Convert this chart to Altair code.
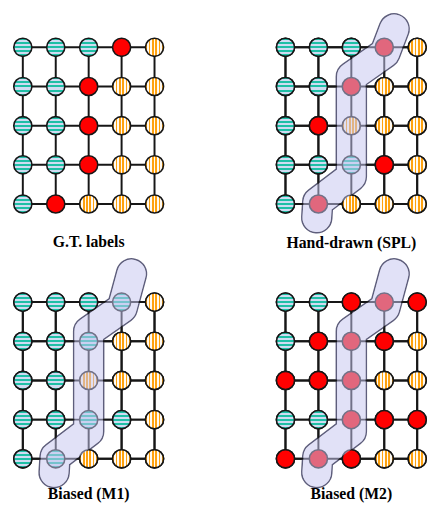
import altair as alt
import pandas as pd

# ---- data ----
panels = ["G.T. labels", "Hand-drawn (SPL)", "Biased (M1)", "Biased (M2)"]
# T = teal (class A), O = orange (class B), R = red (boundary / selected)
grid_gt = ["TTTRO", "TTROO", "TTROO", "TTROO", "TROOO"]
grid_spl = ["TTTRO", "TTROO", "TROOO", "TTTRO", "TROOO"]
grid_m1 = ["TTTTO", "TTTOO", "TTOOO", "TTTTO", "TTOOO"]
grid_m2 = ["TTRRR", "TRRRO", "RRROO", "TTRRR", "RRROO"]
grids = [grid_gt, grid_spl, grid_m1, grid_m2]
has_blob = [False, True, True, True]
blob_cells = [(0, 3), (1, 2), (2, 2), (3, 2), (4, 1)]
# blob centre line (grid units: col, row)
blob_col = [3.3, 3.02, 2.0, 2.0, 0.98, 0.95]
blob_row_mid = [0.15, 0.75, 3.3, 3.95, 4.35]
blob_top_row = [None, -0.47, -0.72, -0.72]

TEAL, TEAL_LIGHT = "#1fbfa6", "#cfdcf2"
ORANGE, ORANGE_LIGHT = "#ffa20f", "#fffaf2"
RED = "#ff0000"
LINE = "#161616"


def stripes(c1, c2, n, vertical_stripes):
    stops = []
    for i in range(n):
        col = c1 if i % 2 == 0 else c2
        stops.append(alt.GradientStop(offset=i / n, color=col))
        stops.append(alt.GradientStop(offset=(i + 1) / n, color=col))
    if vertical_stripes:
        return alt.Gradient(gradient="linear", stops=stops, x1=0, y1=0, x2=1, y2=0)
    return alt.Gradient(gradient="linear", stops=stops, x1=0, y1=0, x2=0, y2=1)


fills = {
    "T": stripes(TEAL, TEAL_LIGHT, 9, False),
    "O": stripes(ORANGE, ORANGE_LIGHT, 11, True),
    "R": RED,
}

W, H = 164, 224
xs = alt.Scale(domain=[-0.45, 4.45], nice=False, zero=False)
ys = alt.Scale(domain=[-0.9, 4.725], reverse=True, nice=False, zero=False)
TITLE_OFFSET = [2, 2, -2, -2]


def panel(idx):
    grid = grids[idx]
    blob = has_blob[idx]
    cells = pd.DataFrame(
        [
            {"row": r, "col": c, "kind": grid[r][c],
             "inblob": bool(blob and (r, c) in blob_cells)}
            for r in range(len(grid)) for c in range(len(grid[r]))
        ]
    )
    n = len(grid)
    hl = pd.DataFrame({"row": list(range(n)), "c0": 0, "c1": n - 1})
    vl = pd.DataFrame({"col": list(range(n)), "r0": 0, "r1": n - 1})

    X = alt.X("col:Q", scale=xs, axis=None)
    Y = alt.Y("row:Q", scale=ys, axis=None)

    hrules = alt.Chart(hl).mark_rule(color=LINE, strokeWidth=2).encode(
        x=alt.X("c0:Q", scale=xs, axis=None), x2="c1:Q", y=Y)
    vrules = alt.Chart(vl).mark_rule(color=LINE, strokeWidth=2).encode(
        x=X, y=alt.Y("r0:Q", scale=ys, axis=None), y2="r1:Q")

    def circles():
        layers = []
        for k in ["T", "O", "R"]:
            d = cells[cells.kind == k]
            if len(d) == 0:
                continue
            layers.append(
                alt.Chart(d).mark_point(shape="circle", filled=True, fill=fills[k],
                                        stroke=LINE, strokeWidth=1.6, size=340,
                                        opacity=1).encode(x=X, y=Y)
            )
        return layers

    layers = [hrules, vrules] + circles()

    if blob:
        bdf = pd.DataFrame({
            "col": blob_col,
            "row": [blob_top_row[idx]] + blob_row_mid,
            "i": list(range(len(blob_col))),
        })
        base = alt.Chart(bdf).encode(x=X, y=Y, order="i:Q")
        outline = base.mark_line(color="#5e5e7c", strokeWidth=32, strokeCap="round",
                                 strokeJoin="round", interpolate="linear")
        white = base.mark_line(color="white", strokeWidth=29, strokeCap="round",
                               strokeJoin="round", interpolate="linear")
        lav = base.mark_line(color="#c5c5f0", strokeWidth=29, strokeCap="round",
                             strokeJoin="round", interpolate="linear", opacity=0.52)
        layers += [outline, white, hrules, vrules] + circles() + [lav]

    return alt.layer(*layers).properties(
        width=W, height=H,
        title=alt.TitleParams(text=panels[idx], orient="bottom", font="Liberation Serif",
                              fontSize=16, fontWeight="bold", color="black",
                              offset=TITLE_OFFSET[idx], anchor="middle"),
    )


row1 = alt.hconcat(panel(0), panel(1), spacing=103)
row2 = alt.hconcat(panel(2), panel(3), spacing=103)
chart = alt.vconcat(row1, row2, spacing=6).properties(padding=0).configure_view(strokeWidth=0)

chart.save("out.html", embed_options={"renderer": "svg", "actions": False})
